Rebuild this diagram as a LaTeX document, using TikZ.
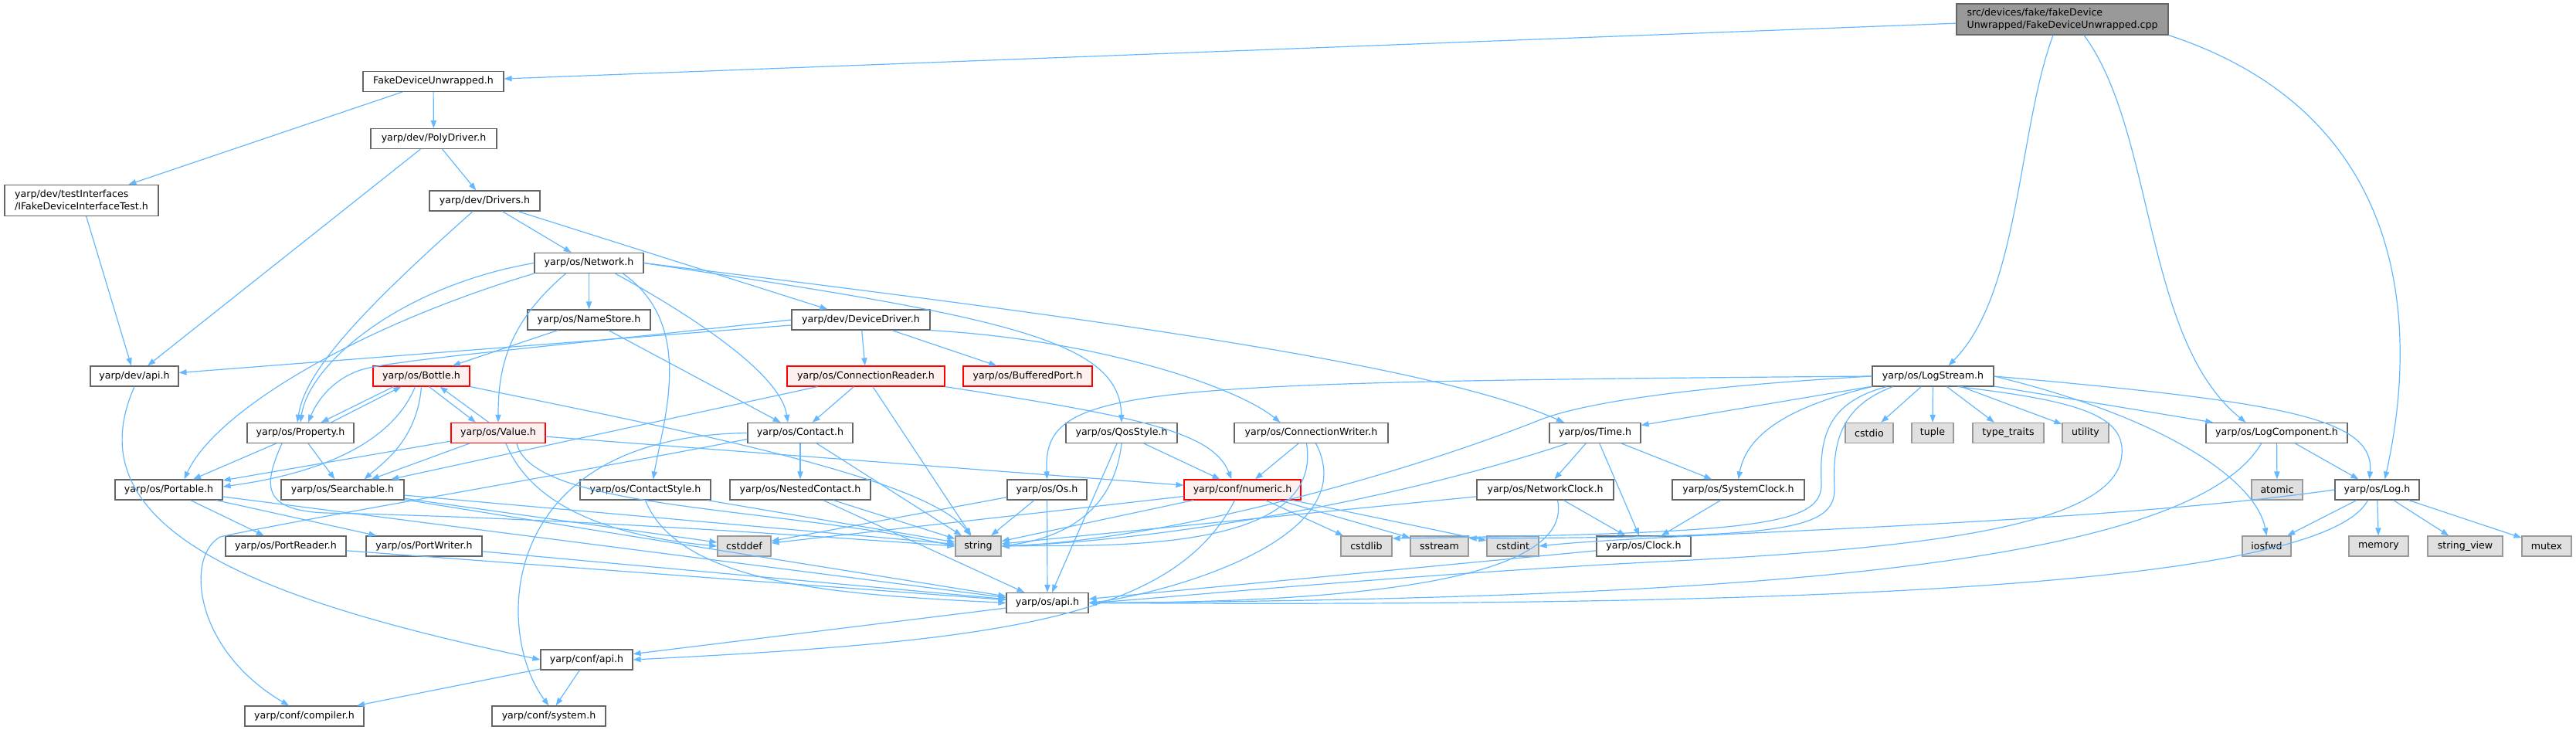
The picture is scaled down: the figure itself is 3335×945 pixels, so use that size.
\documentclass[tikz,border=0pt]{standalone}
\usepackage{fontspec}
\setmainfont{DejaVu Sans}
\usepackage{tikz}
\usetikzlibrary{arrows.meta}
\definecolor{inclblue}{HTML}{63B8FF}
\definecolor{boxgray}{HTML}{666666}
\definecolor{redfill}{HTML}{FFF0F0}
\definecolor{sysfill}{HTML}{E0E0E0}
\definecolor{sysdraw}{HTML}{999999}
\definecolor{srcfill}{HTML}{999999}

\begin{document}
\begin{tikzpicture}[x=0.5pt,y=-0.5pt,
  hdr/.style={draw=boxgray,fill=white,line width=0.6pt,minimum height=13pt,
    inner xsep=2pt,inner ysep=3pt,minimum width=#1*0.5pt,
    font=\fontsize{6.3}{7.8}\selectfont},
  redhdr/.style={hdr=#1,draw=red,fill=redfill},
  syshdr/.style={hdr=#1,draw=sysdraw,fill=sysfill},
  srchdr/.style={hdr=#1,fill=srcfill},
  incl/.style={draw=inclblue,line width=0.6pt,-{Triangle[length=5pt,width=3.6pt]}}]
  \useasboundingbox (0,0) rectangle (3335,945);

  \node[srchdr=274,minimum height=20pt,align=left] (src) at (2670,25) {src/devices/fake/fakeDevice\\Unwrapped/FakeDeviceUnwrapped.cpp};
  \node[hdr=182] (fdu) at (561,105.5) {FakeDeviceUnwrapped.h};
  \node[hdr=163] (polydrv) at (561.5,179.5) {yarp/dev/PolyDriver.h};
  \node[hdr=199,minimum height=20pt,align=left] (ifake) at (105.5,259.5) {yarp/dev/testInterfaces\\/IFakeDeviceInterfaceTest.h};
  \node[hdr=143] (drivers) at (627.5,260) {yarp/dev/Drivers.h};
  \node[hdr=141] (network) at (762.5,340.5) {yarp/os/Network.h};
  \node[hdr=159] (namestore) at (762.5,414) {yarp/os/NameStore.h};
  \node[hdr=179] (devdrv) at (1114.5,414) {yarp/dev/DeviceDriver.h};
  \node[hdr=114] (devapi) at (174,487) {yarp/dev/api.h};
  \node[redhdr=125] (bottle) at (545.5,487) {yarp/os/Bottle.h};
  \node[redhdr=204] (connrd) at (1121,487) {yarp/os/ConnectionReader.h};
  \node[redhdr=167] (bufport) at (1330.5,487) {yarp/os/BufferedPort.h};
  \node[hdr=157] (logstream) at (2502.5,487) {yarp/os/LogStream.h};
  \node[hdr=138] (property) at (389,560.5) {yarp/os/Property.h};
  \node[redhdr=122] (value) at (645,560.5) {yarp/os/Value.h};
  \node[hdr=136] (contact) at (1036,560.5) {yarp/os/Contact.h};
  \node[hdr=144] (qos) at (1452,560.5) {yarp/os/QosStyle.h};
  \node[hdr=199] (connwr) at (1697.5,560.5) {yarp/os/ConnectionWriter.h};
  \node[hdr=118] (timeh) at (2065,560.5) {yarp/os/Time.h};
  \node[syshdr=62] (cstdio) at (2420,560.5) {cstdio};
  \node[syshdr=54] (tuple) at (2502,560.5) {tuple};
  \node[syshdr=92] (typetraits) at (2600,560.5) {type\_traits};
  \node[syshdr=60] (utility) at (2700,560.5) {utility};
  \node[hdr=183] (logcomp) at (2947.5,560.5) {yarp/os/LogComponent.h};
  \node[hdr=139] (portable) at (218.5,634) {yarp/os/Portable.h};
  \node[hdr=159] (searchable) at (443.5,634) {yarp/os/Searchable.h};
  \node[hdr=169] (ctstyle) at (835.5,634) {yarp/os/ContactStyle.h};
  \node[hdr=182] (nested) at (1036,634) {yarp/os/NestedContact.h};
  \node[hdr=103] (osh) at (1355.5,634) {yarp/os/Os.h};
  \node[redhdr=151] (numeric) at (1608.5,634) {yarp/conf/numeric.h};
  \node[hdr=177] (netclock) at (2000.5,634) {yarp/os/NetworkClock.h};
  \node[hdr=171] (sysclock) at (2250.5,634) {yarp/os/SystemClock.h};
  \node[syshdr=66] (atomic) at (2948,634) {atomic};
  \node[hdr=109] (logh) at (3077.5,634) {yarp/os/Log.h};
  \node[hdr=156] (portrd) at (370,707) {yarp/os/PortReader.h};
  \node[hdr=150] (portwr) at (549,707) {yarp/os/PortWriter.h};
  \node[syshdr=69] (cstddef) at (963.5,707) {cstddef};
  \node[syshdr=59] (string) at (1266.5,707) {string};
  \node[syshdr=66] (cstdlib) at (1769,707) {cstdlib};
  \node[syshdr=75] (sstream) at (1863.5,707) {sstream};
  \node[syshdr=67] (cstdint) at (1958.5,707) {cstdint};
  \node[hdr=122] (clock) at (2128,707) {yarp/os/Clock.h};
  \node[syshdr=63] (iosfwd) at (2934.5,707) {iosfwd};
  \node[syshdr=77] (memory) at (3079.5,707) {memory};
  \node[syshdr=97] (strview) at (3191.5,707) {string\_view};
  \node[syshdr=64] (mutex) at (3297,707) {mutex};
  \node[hdr=106] (osapi) at (1356,780.5) {yarp/os/api.h};
  \node[hdr=119] (confapi) at (759.5,854) {yarp/conf/api.h};
  \node[hdr=154] (compiler) at (394,927) {yarp/conf/compiler.h};
  \node[hdr=147] (system) at (710.5,927) {yarp/conf/system.h};

  \draw[incl] (src) -- (fdu);
  \draw[incl] ([xshift=-6pt]src.south) .. controls (2612,170) and (2615,380) .. ([xshift=10pt]logstream.north);
  \draw[incl] ([xshift=14pt]src.south) .. controls (2790,170) and (2775,440) .. ([xshift=-20pt]logcomp.north);
  \draw[incl] (src.south east) .. controls (3125,150) and (3130,430) .. ([xshift=5pt]logh.north);
  \draw[incl] (fdu) -- (polydrv);
  \draw[incl] (fdu) -- (ifake);
  \draw[incl] (ifake) -- (devapi);
  \draw[incl] (polydrv) -- (devapi);
  \draw[incl] (polydrv) -- (drivers);
  \draw[incl] (drivers) -- (network);
  \draw[incl] (drivers) -- (devdrv);
  \draw[incl] (drivers) .. controls (470,400) and (395,480) .. ([xshift=-2pt]property.north);
  \draw[incl] (network) -- (namestore);
  \draw[incl] (network.west) .. controls (520,370) and (400,470) .. (property.north);
  \draw[incl] (network.south west) .. controls (470,420) and (280,530) .. ([xshift=10pt]portable.north);
  \draw[incl] ([xshift=-15pt]network.south) .. controls (655,420) and (645,480) .. (value.north);
  \draw[incl] ([xshift=17pt]network.south) .. controls (880,400) and (1010,480) .. ([xshift=-8pt]contact.north);
  \draw[incl] ([xshift=22pt]network.south) .. controls (900,420) and (860,540) .. ([xshift=5pt]ctstyle.north);
  \draw[incl] (network.east) .. controls (1300,410) and (1450,440) .. (qos.north);
  \draw[incl] (network.east) .. controls (1400,410) and (1850,470) .. ([xshift=-20pt]timeh.north);
  \draw[incl] (devdrv) -- (devapi);
  \draw[incl] (devdrv.west) .. controls (700,450) and (520,465) .. (470,478) .. controls (430,490) and (410,520) .. ([xshift=5pt]property.north);
  \draw[incl] (devdrv) -- (connrd);
  \draw[incl] (devdrv) -- (bufport);
  \draw[incl] (devdrv.south east) .. controls (1420,440) and (1600,500) .. ([xshift=-20pt]connwr.north);
  \draw[incl] (namestore) -- (bottle);
  \draw[incl] (namestore) -- (contact);
  \draw[incl] ([xshift=13.5pt]bottle.south west) -- ([xshift=-21.5pt]property.north east);
  \draw[incl] ([xshift=-15pt]property.north east) -- ([xshift=18.5pt]bottle.south west);
  \draw[incl] ([xshift=5pt]bottle.south) -- ([xshift=-14.5pt]value.north);
  \draw[incl] ([xshift=-6pt]value.north) -- ([xshift=12pt]bottle.south);
  \draw[incl] ([xshift=-4pt]bottle.south) .. controls (505,580) and (400,615) .. ([yshift=2pt]portable.east);
  \draw[incl] (bottle.south) .. controls (540,570) and (495,600) .. ([xshift=14pt]searchable.north);
  \draw[incl] (bottle.south east) .. controls (900,560) and (1200,620) .. ([xshift=-5pt]string.north);
  \draw[incl] (property) -- (portable);
  \draw[incl] (property) -- (searchable);
  \draw[incl] ([xshift=-12pt]property.south) .. controls (340,630) and (340,660) .. (420,664) .. controls (700,670) and (1000,690) .. (string.west);
  \draw[incl] (value) -- (portable);
  \draw[incl] (value) -- (searchable);
  \draw[incl] (value) -- (numeric);
  \draw[incl] ([xshift=5pt]value.south) .. controls (690,660) and (800,695) .. (cstddef.west);
  \draw[incl] ([xshift=12pt]value.south) .. controls (690,660) and (1000,655) .. (string.west);
  \draw[incl] (portable) -- (portrd);
  \draw[incl] (portable) -- (portwr);
  \draw[incl] (portable) -- (osapi);
  \draw[incl] (searchable) -- (cstddef);
  \draw[incl] (searchable) -- (string);
  \draw[incl] (searchable) -- (osapi);
  \draw[incl] (portrd) -- (osapi);
  \draw[incl] (portwr) -- (osapi);
  \draw[incl] (ctstyle) -- (string);
  \draw[incl] (ctstyle.south) .. controls (880,760) and (1100,770) .. (osapi.west);
  \draw[incl] (nested) -- (string);
  \draw[incl] (nested) -- (osapi);
  \draw[incl] (contact) -- (nested);
  \draw[incl] (contact) -- (string);
  \draw[incl] (contact.west) .. controls (640,565) and (640,820) .. (system.north);
  \draw[incl] ([yshift=-4pt]contact.west) .. controls (700,620) and (400,670) .. (285,695) .. controls (240,720) and (250,840) .. ([xshift=-10pt]compiler.north);
  \draw[incl] (connrd) -- (contact);
  \draw[incl] (connrd) -- (string);
  \draw[incl] (connrd) -- (searchable);
  \draw[incl] (connrd.south east) .. controls (1480,540) and (1570,560) .. ([xshift=-7pt]numeric.north);
  \draw[incl] (qos) -- (numeric);
  \draw[incl] (qos.south) .. controls (1440,680) and (1350,700) .. (string.east);
  \draw[incl] (qos) -- (osapi);
  \draw[incl] (connwr) -- (numeric);
  \draw[incl] ([xshift=-3pt]connwr.south) .. controls (1715,720) and (1420,705) .. (string.east);
  \draw[incl] ([xshift=3pt]connwr.south) .. controls (1770,700) and (1500,770) .. (osapi.east);
  \draw[incl] (osh) -- (string);
  \draw[incl] (osh) -- (cstddef);
  \draw[incl] (osh) -- (osapi);
  \draw[incl] (numeric) -- (string);
  \draw[incl] (numeric) -- (cstddef);
  \draw[incl] (numeric) -- (cstdlib);
  \draw[incl] (numeric) -- (sstream);
  \draw[incl] (numeric) -- (cstdint);
  \draw[incl] ([xshift=-5pt]numeric.south) .. controls (1520,800) and (1300,830) .. (confapi.east);
  \draw[incl] (timeh) -- (netclock);
  \draw[incl] (timeh) -- (clock);
  \draw[incl] (timeh) -- (sysclock);
  \draw[incl] ([xshift=-18pt]timeh.south) .. controls (1800,650) and (1500,700) .. (string.east);
  \draw[incl] (netclock) -- (clock);
  \draw[incl] (netclock) -- (string);
  \draw[incl] ([xshift=8pt]netclock.south) .. controls (2040,760) and (1700,780) .. (osapi.east);
  \draw[incl] (sysclock) -- (clock);
  \draw[incl] (clock) -- (osapi);
  \draw[incl] (logstream.west) .. controls (1450,495) and (1350,500) .. (osh.north);
  \draw[incl] (logstream.west) .. controls (2200,500) and (2050,520) .. (1990,545) .. controls (1800,620) and (1500,700) .. (string.east);
  \draw[incl] (logstream) -- (timeh);
  \draw[incl] (logstream.south west) .. controls (2300,530) and (2260,570) .. (sysclock.north);
  \draw[incl] ([xshift=-30pt]logstream.south) .. controls (2370,520) and (2355,560) .. (2358,625) .. controls (2360,680) and (2280,690) .. ([yshift=5pt]cstdlib.east);
  \draw[incl] ([xshift=-26pt]logstream.south) .. controls (2385,525) and (2372,570) .. (2375,630) .. controls (2378,690) and (2300,695) .. ([yshift=5pt]sstream.east);
  \draw[incl] (logstream) -- (cstdio);
  \draw[incl] (logstream) -- (tuple);
  \draw[incl] (logstream) -- (typetraits);
  \draw[incl] (logstream) -- (utility);
  \draw[incl] (logstream) -- (logcomp);
  \draw[incl] (logstream.east) .. controls (2950,520) and (3075,540) .. ([xshift=-5pt]logh.north);
  \draw[incl] (logstream.east) .. controls (2800,540) and (2920,620) .. (iosfwd.north);
  \draw[incl] ([xshift=16pt]logstream.south) .. controls (2700,520) and (2760,540) .. (2745,600) .. controls (2720,680) and (2500,710) .. (2150,727) .. controls (1800,745) and (1500,775) .. (osapi.east);
  \draw[incl] (logcomp) -- (atomic);
  \draw[incl] (logcomp) -- (logh);
  \draw[incl] ([xshift=-10pt]logcomp.south) .. controls (2830,740) and (2200,775) .. (osapi.east);
  \draw[incl] (logh) -- (iosfwd);
  \draw[incl] (logh) -- (memory);
  \draw[incl] (logh) -- (strview);
  \draw[incl] (logh) -- (mutex);
  \draw[incl] ([xshift=-6pt]logh.south) .. controls (3000,770) and (2200,785) .. (osapi.east);
  \draw[incl] (logh.west) .. controls (2700,680) and (2150,690) .. (cstdint.east);
  \draw[incl] (devapi.south) .. controls (90,690) and (350,780) .. (confapi.west);
  \draw[incl] (osapi) -- (confapi);
  \draw[incl] (confapi) -- (compiler);
  \draw[incl] (confapi) -- (system);
\end{tikzpicture}
\end{document}
